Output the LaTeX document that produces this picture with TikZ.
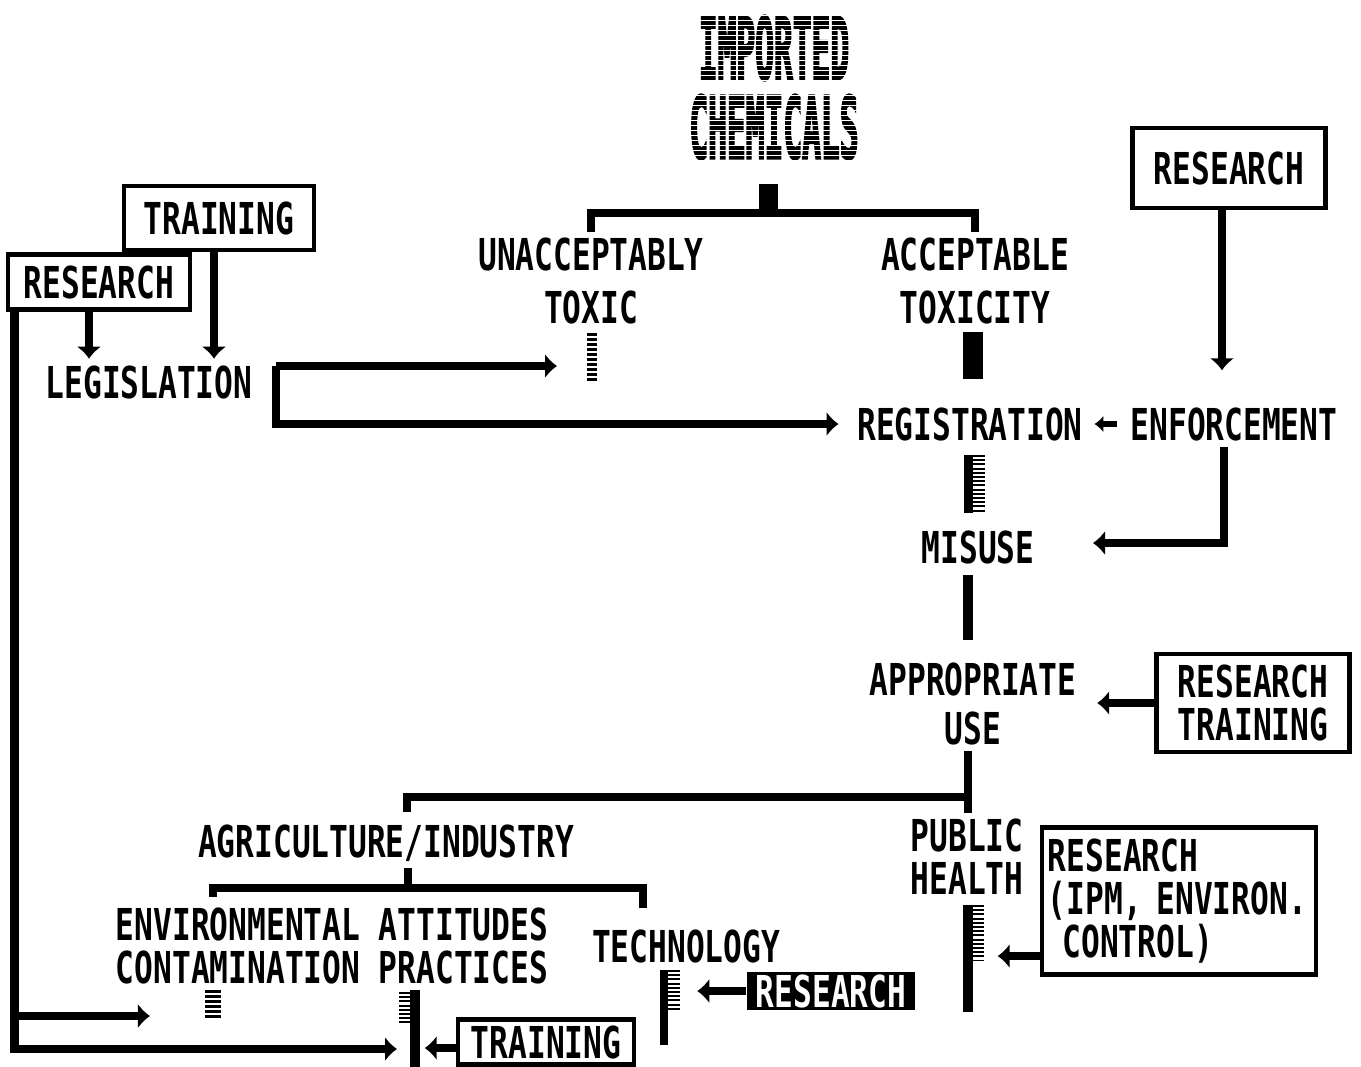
\documentclass[tikz,border=0pt]{standalone}
\usepackage{graphicx}
\usepackage{fontspec}
\newfontfamily\pixfont{DejaVu Sans Mono}[FakeStretch=0.71]
\newfontfamily\heavyfont{DejaVu Sans Mono}[FakeStretch=0.71, FakeBold=3]
\newcommand{\pix}[1]{\pixfont\bfseries\fontsize{12.5}{#1}\selectfont}
\usetikzlibrary{arrows.meta}

\begin{document}
\begin{tikzpicture}[x=0.01cm, y=-0.01cm,
    txt/.style={font=\pix{14.8}, align=center, inner sep=0.06cm},
    head/.style={font=\heavyfont\bfseries\fontsize{12.5}{14}\selectfont, inner sep=0pt},
    box/.style={txt, draw, line width=0.045cm},
    invbox/.style={txt, fill=black, text=white, inner sep=0.02cm},
    link/.style={line width=0.085cm},
    flow/.style={link, -{Latex[length=0.12cm, width=0.25cm]}},
    smallflow/.style={line width=0.06cm, -{Latex[length=0.09cm, width=0.17cm]}},
    block/.style={line width=0.19cm},
    stub/.style={line width=0.1cm},
    spine/.style={line width=0.09cm},
    teeth/.style={line width=0.12cm, dash pattern=on 0.02cm off 0.022cm},
    rungs/.style={line width=0.1cm, dash pattern=on 0.025cm off 0.025cm},
  ]
    \useasboundingbox (0,0) rectangle (1361,1066);

    % title
    \node[head] (title1) at (774,48) {\scalebox{1}[1.95]{IMPORTED}};
    \node[head] (title2) at (774,127) {\scalebox{1}[1.95]{CHEMICALS}};
    \foreach \s in {15,20,...,160}
      \draw[white, line width=0.01cm] (680,\s) -- (870,\s);

    % labels
    \node[txt] (unacc) at (591,281) {UNACCEPTABLY\\TOXIC};
    \node[txt] (accept) at (975,281) {ACCEPTABLE\\TOXICITY};
    \node[txt] (legis) at (149,382) {LEGISLATION};
    \node[txt] (reg) at (970,424) {REGISTRATION};
    \node[txt] (enf) at (1234,424) {ENFORCEMENT};
    \node[txt] (misuse) at (978,547) {MISUSE};
    \node[txt, font=\pix{13.7}] (approp) at (973,704) {APPROPRIATE\\USE};
    \node[txt] (agri) at (386,843) {AGRICULTURE/INDUSTRY};
    \node[txt, font=\pix{12.2}] (public) at (967,857) {PUBLIC\\HEALTH};
    \node[txt, font=\pix{12.2}] (env) at (332,946) {ENVIRONMENTAL ATTITUDES\\CONTAMINATION PRACTICES};
    \node[txt] (tech) at (686,946) {TECHNOLOGY};

    % boxes
    \node[box, minimum width=1.82cm, minimum height=0.55cm] (resL) at (99,282) {RESEARCH};
    \node[box, minimum width=1.90cm, minimum height=0.64cm] (trainL) at (219,218) {TRAINING};
    \node[box, minimum width=1.93cm, minimum height=0.80cm] (resR) at (1229,168) {RESEARCH};
    \node[box, font=\pix{12}, minimum width=1.93cm, minimum height=0.98cm] (resTr) at (1253,703) {RESEARCH\\TRAINING};
    \node[box, font=\pix{12.2}, align=left, text width=2.62cm, minimum height=1.47cm] (resIPM) at (1179,901) {RESEARCH\\(IPM, ENVIRON.\\~CONTROL)};
    \node[box, minimum width=1.76cm, minimum height=0.44cm] (trainB) at (546,1042) {TRAINING};
    \node[invbox, minimum width=1.68cm, minimum height=0.37cm] (resB) at (831,991) {RESEARCH};

    % points
    \coordinate (stemTop) at (768,184);
    \coordinate (split) at (768,213);
    \coordinate (brk) at (276,366);
    \coordinate (toxicIn) at (557,366);
    \coordinate (misuseIn) at (1093,543);
    \coordinate (useSplit) at (968,797);
    \coordinate (agriTop) at (407,812);
    \coordinate (agriSplit) at (408,888);
    \coordinate (envTop) at (213,897);
    \coordinate (techTop) at (643,908);
    \coordinate (leftRun) at (17,1016);
    \coordinate (contIn) at (150,1016);
    \coordinate (practIn) at (397,1049);

    % top split
    \draw[block] (stemTop) -- (split);
    \draw[link] (unacc.north) |- (split) -| (accept.north);

    % blocked / passed markers
    \draw[rungs] (592,333) -- (592,383);
    \draw[block, line width=0.2cm] (973,332) -- (973,379);
    \draw[spine] (968,455) -- (968,513);
    \draw[teeth] (979,455) -- (979,513);
    \draw[stub] (968,575) -- (968,640);
    \draw[rungs, line width=0.16cm] (213,990) -- (213,1020);
    \draw[teeth, line width=0.11cm] (404,992) -- (404,1025);
    \draw[spine, line width=0.1cm] (415,990) -- (415,1070);
    \draw[spine, line width=0.08cm] (664,970) -- (664,1045);
    \draw[teeth] (674,970) -- (674,1010);
    \draw[spine, line width=0.1cm] (968,905) -- (968,1012);
    \draw[teeth] (978,905) -- (978,960);

    % legislation
    \draw[flow] ([xshift=-0.1cm]resL.south) -- ([xshift=-0.1cm]resL.south |- legis.north);
    \draw[flow] ([xshift=-0.05cm]trainL.south) -- ([xshift=-0.05cm]trainL.south |- legis.north);
    \draw[flow] (brk) -- (toxicIn);
    \draw[flow, shorten >=0.12cm] (brk) |- (reg.west);

    % registration and enforcement
    \draw[flow] ([xshift=-0.07cm]resR.south) -- ++(0,160);
    \draw[smallflow, shorten <=0.07cm, shorten >=0.05cm] (enf.west) -- (reg.east);
    \draw[flow] ([xshift=-0.1cm]enf.south) |- (misuseIn);

    % appropriate use
    \draw[flow] (resTr.west) -- ++(-57,0);
    \draw[link] (useSplit |- approp.south) -- (useSplit |- public.north);
    \draw[link] (useSplit) -| (agriTop);
    \draw[link] (agri.south -| agriSplit) -- (agriSplit);
    \draw[link] (envTop) |- (agriSplit) -| (techTop);

    % lower inputs
    \draw[flow] ([xshift=0.09cm]resL.south west) |- (practIn);
    \draw[flow] (leftRun) -- (contIn);
    \draw[flow] ([yshift=-0.06cm]trainB.west) -- ++(-31,0);
    \draw[flow] (resB.west) -- ++(-49,0);
    \draw[flow] ([yshift=-0.55cm]resIPM.west) -- ++(-42,0);
\end{tikzpicture}
\end{document}
